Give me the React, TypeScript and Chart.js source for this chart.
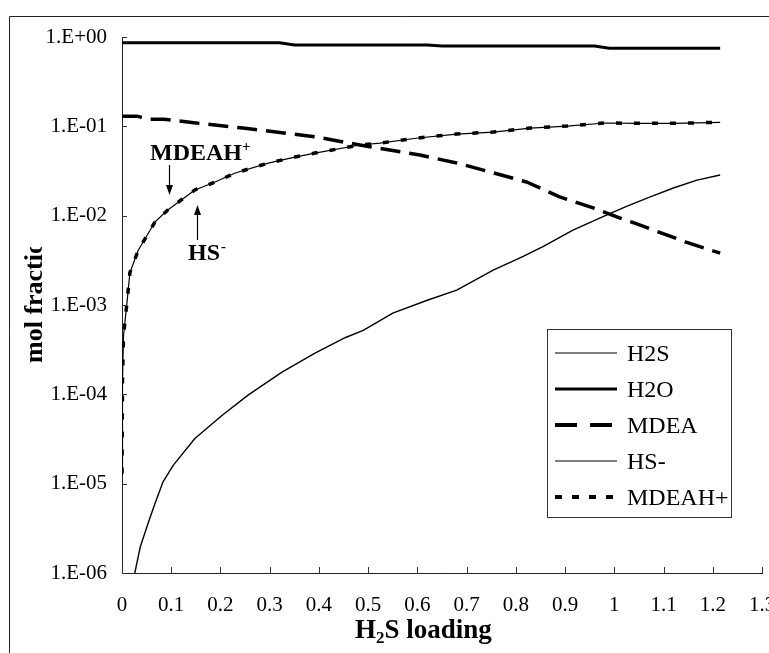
import { useEffect, useRef } from 'react';
import { Chart, registerables } from 'chart.js';

Chart.register(...registerables);

// ---- data ----
const yTickValues = [1, 1e-1, 1e-2, 1e-3, 1e-4, 1e-5, 1e-6];
const xTickValues = [0, 0.1, 0.2, 0.3, 0.4, 0.5, 0.6, 0.7, 0.8, 0.9, 1.0, 1.1, 1.2, 1.3];

const seriesLabels = ['H2S', 'H2O', 'MDEA', 'HS-', 'MDEAH+'];

const h2sLoading = [0.02, 0.026, 0.037, 0.053, 0.067, 0.083, 0.104, 0.148, 0.203, 0.256, 0.325, 0.392, 0.453, 0.49, 0.55, 0.62, 0.68, 0.754, 0.815, 0.855, 0.916, 0.985, 1.026, 1.073, 1.12, 1.168, 1.215];
const h2sFraction = [6e-7, 1e-6, 1.95e-6, 3.6e-6, 6.0e-6, 1.04e-5, 1.6e-5, 3.2e-5, 5.8e-5, 9.8e-5, 1.77e-4, 2.9e-4, 4.3e-4, 5.2e-4, 8.1e-4, 1.13e-3, 1.47e-3, 2.46e-3, 3.5e-3, 4.5e-3, 6.9e-3, 0.0102, 0.0128, 0.0162, 0.0204, 0.025, 0.0285];

const h2oLoading = [0, 0.32, 0.35, 0.62, 0.65, 0.96, 0.99, 1.215];
const h2oFraction = [0.863, 0.863, 0.814, 0.814, 0.793, 0.793, 0.748, 0.748];

const mdeaLoading = [0, 0.03, 0.057, 0.085, 0.15, 0.25, 0.392, 0.483, 0.605, 0.68, 0.741, 0.822, 0.889, 0.957, 1.012, 1.04, 1.144, 1.215];
const mdeaFraction = [0.13, 0.13, 0.12, 0.12, 0.109, 0.095, 0.0765, 0.0618, 0.0477, 0.0389, 0.0316, 0.0238, 0.0162, 0.0122, 0.0094, 0.0083, 0.0051, 0.0038];

const ionLoading = [0, 0.001, 0.003, 0.01, 0.016, 0.033, 0.067, 0.093, 0.148, 0.189, 0.23, 0.297, 0.351, 0.392, 0.483, 0.524, 0.601, 0.68, 0.754, 0.829, 0.904, 0.981, 1.05, 1.12, 1.215];
const hsFraction = [1.25e-5, 1.4e-4, 4.5e-4, 1.05e-3, 2.3e-3, 4.1e-3, 8.5e-3, 0.0116, 0.0194, 0.0238, 0.03, 0.0388, 0.0453, 0.0502, 0.0618, 0.065, 0.074, 0.082, 0.0863, 0.0957, 0.1007, 0.109, 0.108, 0.108, 0.111];
const mdeahFraction = [1.3e-5, 1.4e-4, 4.5e-4, 1.05e-3, 2.3e-3, 4.1e-3, 8.5e-3, 0.0116, 0.0194, 0.0238, 0.03, 0.0388, 0.0453, 0.0502, 0.0618, 0.065, 0.074, 0.082, 0.0863, 0.0957, 0.1007, 0.109, 0.108, 0.108, 0.111];

const zip = (xs: number[], ys: number[]) => xs.map((x, i) => ({ x, y: ys[i] }));

const SERIF = '"Liberation Serif", "Times New Roman", serif';

function fmtExp(v: number) {
  const e = Math.round(Math.log10(v));
  return '1.E' + (e < 0 ? '-' : '+') + String(Math.abs(e)).padStart(2, '0');
}

function drawArrow(ctx: CanvasRenderingContext2D, x: number, tail: number, tip: number) {
  const dir = tip > tail ? 1 : -1;
  ctx.beginPath();
  ctx.moveTo(x + 0.5, tail);
  ctx.lineTo(x + 0.5, tip - dir * 8);
  ctx.lineWidth = 1.2;
  ctx.strokeStyle = '#000';
  ctx.stroke();
  ctx.beginPath();
  ctx.moveTo(x + 0.5, tip);
  ctx.lineTo(x + 0.5 - 3.5, tip - dir * 10);
  ctx.lineTo(x + 0.5 + 3.5, tip - dir * 10);
  ctx.closePath();
  ctx.fillStyle = '#000';
  ctx.fill();
}

const decorPlugin = {
  id: 'decor',
  beforeDraw(chart: any) {
    const ctx = chart.ctx as CanvasRenderingContext2D;
    ctx.save();
    ctx.fillStyle = '#fff';
    ctx.fillRect(0, 0, chart.width, chart.height);
    ctx.strokeStyle = '#222';
    ctx.lineWidth = 1;
    ctx.beginPath();
    ctx.moveTo(9.5, chart.height + 5);
    ctx.lineTo(9.5, 16.5);
    ctx.lineTo(chart.width + 5, 16.5);
    ctx.stroke();
    ctx.restore();
  },
  afterDraw(chart: any) {
    const ctx = chart.ctx as CanvasRenderingContext2D;
    const { left, bottom } = chart.chartArea;
    const xs = chart.scales.x;
    const ys = chart.scales.y;
    ctx.save();
    // inside tick marks
    ctx.strokeStyle = '#333';
    ctx.lineWidth = 1;
    ctx.beginPath();
    yTickValues.forEach((v) => {
      const py = Math.round(ys.getPixelForValue(v)) + 0.5;
      ctx.moveTo(left, py);
      ctx.lineTo(left + 5, py);
    });
    xTickValues.forEach((v) => {
      const px = Math.round(xs.getPixelForValue(v)) + 0.5;
      ctx.moveTo(px, bottom);
      ctx.lineTo(px, bottom - 6);
    });
    ctx.stroke();

    // legend
    const bx = 547.5, by = 329.5, bw = 184, bh = 188;
    ctx.fillStyle = '#fff';
    ctx.fillRect(bx, by, bw, bh);
    ctx.strokeStyle = '#333';
    ctx.lineWidth = 1;
    ctx.setLineDash([]);
    ctx.strokeRect(bx, by, bw, bh);
    chart.data.datasets.forEach((ds: any, i: number) => {
      const cy = 352 + 36 * i;
      ctx.beginPath();
      ctx.setLineDash(ds.legendDash || []);
      ctx.lineWidth = ds.legendWidth || ds.borderWidth;
      ctx.strokeStyle = '#000';
      ctx.lineCap = 'butt';
      ctx.moveTo(555, cy + 1);
      ctx.lineTo(617, cy + 1);
      ctx.stroke();
      ctx.setLineDash([]);
      ctx.fillStyle = '#000';
      ctx.font = `24px ${SERIF}`;
      ctx.textAlign = 'left';
      ctx.textBaseline = 'alphabetic';
      ctx.fillText(ds.label, 627, cy + 8.5);
    });

    // annotations
    ctx.fillStyle = '#000';
    ctx.textAlign = 'left';
    ctx.textBaseline = 'alphabetic';
    ctx.font = `bold 24px ${SERIF}`;
    ctx.fillText('MDEAH', 150, 160);
    const wM = ctx.measureText('MDEAH').width;
    ctx.fillText('HS', 188, 260);
    const wH = ctx.measureText('HS').width;
    ctx.font = `bold 15px ${SERIF}`;
    ctx.fillText('+', 150 + wM, 151);
    ctx.fillText('-', 188 + wH + 1, 251);
    drawArrow(ctx, 169, 165, 195);
    drawArrow(ctx, 197, 240, 205);

    // x title with subscript
    ctx.font = `bold 27px ${SERIF}`;
    let tx = 355;
    const tyB = 638;
    ctx.fillText('H', tx, tyB);
    tx += ctx.measureText('H').width;
    ctx.font = `bold 17px ${SERIF}`;
    ctx.fillText('2', tx, tyB + 5);
    tx += ctx.measureText('2').width;
    ctx.font = `bold 27px ${SERIF}`;
    ctx.fillText('S loading', tx, tyB);

    // y title (clipped like the original)
    ctx.save();
    ctx.beginPath();
    ctx.rect(0, 247, 120, 500);
    ctx.clip();
    ctx.translate(42, 363);
    ctx.rotate(-Math.PI / 2);
    ctx.font = `bold 26px ${SERIF}`;
    ctx.fillText('mol fraction', 0, 0);
    ctx.restore();

    ctx.restore();
  },
};

export default function App() {
  const ref = useRef<HTMLCanvasElement | null>(null);
  useEffect(() => {
    if (!ref.current) return;
    const common = { pointRadius: 0, pointHoverRadius: 0, tension: 0, fill: false, borderColor: '#000', backgroundColor: '#000', borderCapStyle: 'butt', borderJoinStyle: 'round' };
    const chart = new Chart(ref.current, {
      type: 'line',
      data: {
        datasets: [
          { ...common, label: seriesLabels[0], data: zip(h2sLoading, h2sFraction), borderWidth: 1.4, legendWidth: 1.2 },
          { ...common, label: seriesLabels[1], data: zip(h2oLoading, h2oFraction), borderWidth: 3, legendWidth: 3 },
          { ...common, label: seriesLabels[2], data: zip(mdeaLoading, mdeaFraction), borderWidth: 3.5, borderDash: [20, 9], legendDash: [22, 13], legendWidth: 4 },
          { ...common, label: seriesLabels[3], data: zip(ionLoading, hsFraction), borderWidth: 1.2, legendWidth: 1.2 },
          { ...common, label: seriesLabels[4], data: zip(ionLoading, mdeahFraction), borderWidth: 3.5, borderDash: [6, 12], legendDash: [7, 10], legendWidth: 4 },
        ] as any,
      },
      options: {
        animation: false,
        responsive: false,
        devicePixelRatio: 1,
        layout: { padding: { top: 37, right: 38, bottom: 0, left: 0 } },
        plugins: { legend: { display: false }, tooltip: { enabled: false } },
        events: [],
        scales: {
          x: {
            type: 'linear',
            min: 0,
            max: 1.3,
            afterBuildTicks: (s: any) => { s.ticks = xTickValues.map((v) => ({ value: v })); },
            afterFit: (s: any) => { s.height = 80; },
            grid: { display: false, drawTicks: false },
            border: { display: true, color: '#222', width: 1 },
            ticks: {
              autoSkip: false,
              maxRotation: 0,
              padding: 20,
              color: '#000',
              font: { family: SERIF, size: 21 },
              callback: (v: any) => String(Number(Number(v).toFixed(1))),
            },
          },
          y: {
            type: 'logarithmic',
            min: 1e-6,
            max: 1,
            afterBuildTicks: (s: any) => { s.ticks = yTickValues.map((v) => ({ value: v })); },
            afterFit: (s: any) => { s.width = 122; },
            grid: { display: false, drawTicks: false },
            border: { display: true, color: '#222', width: 1 },
            ticks: {
              autoSkip: false,
              padding: 15,
              color: '#000',
              font: { family: SERIF, size: 21 },
              callback: (v: any) => fmtExp(Number(v)),
            },
          },
        },
      } as any,
      plugins: [decorPlugin as any],
    });
    return () => chart.destroy();
  }, []);
  return (
    <div style={{ position: 'fixed', left: 0, top: 0, width: 769, height: 653, overflow: 'hidden', background: '#fff' }}>
      <canvas ref={ref} width={800} height={653} style={{ display: 'block' }} />
    </div>
  );
}
